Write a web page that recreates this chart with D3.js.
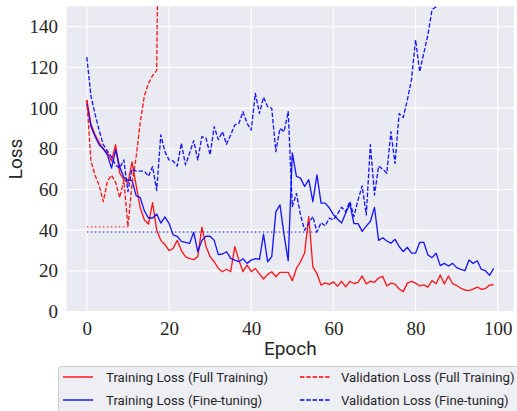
<!DOCTYPE html>
<html>
<head>
<meta charset="utf-8">
<script src="https://cdn.jsdelivr.net/npm/d3@7"></script>
<style>
  html, body { margin: 0; padding: 0; background: #fff; }
  svg { display: block; }
</style>
</head>
<body>
<svg id="chart" width="517" height="411"></svg>
<script>

//// DATA

// Training loss, full training (epochs 0..99)
var trainFull = [104, 92, 87, 83, 80, 78, 74, 82, 68, 65, 63, 73.5, 62, 51, 45, 43, 53.5, 40, 35, 33,
  30, 31, 35, 30, 27, 26, 25.5, 27, 41.5, 32, 27, 24.5, 21.2, 19.6, 20.8, 19.6, 31.9, 25.3, 19.6, 22.9,
  19.6, 21.2, 18.5, 16, 18.3, 19.6, 17.1, 19.3, 19.3, 19.3, 15.2, 21.2, 24.5, 28.8, 46.7, 22, 18.7, 13, 14.1, 13.4,
  14.6, 12.5, 14.9, 12.1, 14.9, 13.8, 14.4, 17.5, 13.6, 14.9, 14.4, 16.5, 17.3, 12.6, 14, 13.5, 11.1, 9.8, 14, 14.9,
  14, 12.6, 13.1, 12, 15.2, 13.7, 18, 13.6, 17.5, 13.7, 12.8, 11.5, 10.6, 10.3, 11, 12, 11, 11.3, 13, 13.2];

// Validation loss, full training (goes off the chart after epoch 17)
var valFull = [104, 74, 67, 62, 54, 64, 67, 63.5, 56, 64.5, 41.7, 63, 76, 93, 106, 112, 116, 118.5, 300];

// Training loss, fine-tuning
var trainFine = [102, 91, 86, 82, 80, 77, 70.5, 79.5, 71, 66, 64.5, 64.5, 57, 56, 49.5, 46, 46, 48, 43.5, 46.5,
  43.4, 37.7, 37, 34.5, 34, 33.5, 39, 29.5, 35, 37, 37, 35, 28, 28.3, 29.4, 26.2, 25.3, 24.5, 26, 23.7,
  25.3, 26, 25.7, 38, 24.5, 27, 49, 52.4, 37.7, 25, 78, 66.4, 65.6, 61.5, 64.8, 54, 67.2, 53.3, 53.3, 51,
  47.6, 45.5, 43.5, 48.4, 53, 43.2, 43.2, 39.4, 42, 44.4, 51.2, 35, 36.3, 34.7, 33.6, 35.5, 32, 29.5, 31.6, 28.7,
  28.7, 34, 34, 27.8, 26.5, 28.7, 22.6, 23.7, 22.4, 23.7, 21.6, 20.8, 20.1, 25.4, 23.7, 25, 20.8, 20.1, 17.8, 21.2];

// Validation loss, fine-tuning (leaves the top of the chart after epoch 85)
var valFine = [125, 106, 97, 89, 82, 79, 76, 72, 70.5, 74.5, 59, 70, 69, 69, 69, 66.5, 71.3, 59.5, 86.8, 78.6,
  74.5, 74, 71.5, 82.7, 72.1, 77.8, 84, 74.5, 86, 85.2, 77, 90.9, 84.5, 88.4, 82.2, 86.8, 91.7, 92.5, 98.2, 92.5,
  89.2, 107.2, 97.4, 105.3, 100.7, 99.9, 78.6, 90, 88.4, 98.2, 51.6, 58, 47.5, 40, 43.4, 46.7, 39.1, 43.7, 42.1, 45.9,
  45, 48, 51.3, 49.1, 54.1, 46.7, 54.9, 61.8, 47.5, 82, 57.3, 71.5, 70, 68, 88.4, 72.8, 97.3, 95.4, 104, 114,
  133.5, 117.8, 127, 136, 148.3, 149.8, 160];

// Axis ticks
var xTicks = [0, 20, 40, 60, 80, 100];
var yTicks = [0, 20, 40, 60, 80, 100, 120, 140];

// Legend, in the order it is laid out (column by column)
var seriesNames = ["Training Loss (Full Training)", "Training Loss (Fine-tuning)",
                   "Validation Loss (Full Training)", "Validation Loss (Fine-tuning)"];
var seriesColors = ["#ff0000", "#0000ff", "#ff0000", "#0000ff"];
var seriesDashed = [false, false, true, true];


//// LAYOUT

var svg = d3.select("#chart");
var plot = {left: 66.5, right: 514, top: 6.3, bottom: 311.6};
var textColor = "#262626";
var serif = "'Liberation Serif', 'DejaVu Serif', serif";
var sans = "Roboto, 'DejaVu Sans', sans-serif";
var lw = 1.35;
var dash = "4.4,1.9";

var x = d3.scaleLinear().domain([-4.95, 103.95]).range([plot.left, plot.right]);
var y = d3.scaleLinear().domain([0, 150]).range([plot.bottom, plot.top]);

// Plot background (seaborn darkgrid)
svg.append("rect")
  .attr("x", plot.left).attr("y", plot.top)
  .attr("width", plot.right - plot.left).attr("height", plot.bottom - plot.top)
  .attr("fill", "#eaeaf2");

svg.append("clipPath").attr("id", "clip")
  .append("rect")
  .attr("x", plot.left).attr("y", plot.top)
  .attr("width", plot.right - plot.left).attr("height", plot.bottom - plot.top);

// Gridlines
svg.append("g").selectAll("line").data(yTicks).enter().append("line")
  .attr("x1", plot.left).attr("x2", plot.right)
  .attr("y1", function(d) { return y(d); }).attr("y2", function(d) { return y(d); })
  .attr("stroke", "#fff").attr("stroke-width", 1.2);
svg.append("g").selectAll("line").data(xTicks).enter().append("line")
  .attr("y1", plot.top).attr("y2", plot.bottom)
  .attr("x1", function(d) { return x(d); }).attr("x2", function(d) { return x(d); })
  .attr("stroke", "#fff").attr("stroke-width", 1.2);

// Axes (labels only, no tick marks or domain line)
var yAxis = svg.append("g")
  .attr("transform", "translate(" + plot.left + ",0)")
  .call(d3.axisLeft(y).tickValues(yTicks).tickSize(0).tickPadding(8.5));
var xAxis = svg.append("g")
  .attr("transform", "translate(0," + plot.bottom + ")")
  .call(d3.axisBottom(x).tickValues(xTicks).tickSize(0).tickPadding(9.5));
[yAxis, xAxis].forEach(function(a) {
  a.select(".domain").remove();
  a.selectAll("text")
    .attr("font-family", serif).attr("font-size", 19)
    .attr("fill", textColor);
});

// Axis titles
svg.append("text")
  .attr("transform", "translate(15," + ((plot.top + plot.bottom) / 2) + ") rotate(-90)")
  .attr("text-anchor", "middle").attr("dy", "0.35em")
  .attr("font-family", sans).attr("font-size", 19).attr("fill", textColor)
  .text("Loss");
svg.append("text")
  .attr("x", (plot.left + plot.right) / 2).attr("y", 348)
  .attr("text-anchor", "middle").attr("dy", "0.35em")
  .attr("font-family", sans).attr("font-size", 19).attr("fill", textColor)
  .text("Epoch");


//// LINES

var lines = svg.append("g").attr("clip-path", "url(#clip)");
var lineGen = d3.line()
  .x(function(d, i) { return x(i); })
  .y(function(d) { return y(d); });

// Best-epoch markers: dotted line from epoch 0 to the epoch of minimal validation loss
function bestLine(vals, color) {
  var best = d3.minIndex(vals);
  lines.append("line")
    .attr("x1", x(0)).attr("x2", x(best))
    .attr("y1", y(vals[best])).attr("y2", y(vals[best]))
    .attr("stroke", color).attr("stroke-width", 1.5)
    .attr("stroke-dasharray", "1.5,2.5").attr("opacity", 0.6);
}
bestLine(valFull, "#ff0000");
bestLine(valFine, "#0000ff");

var allSeries = [trainFull, trainFine, valFull, valFine];
allSeries.forEach(function(vals, k) {
  lines.append("path")
    .datum(vals)
    .attr("d", lineGen)
    .attr("fill", "none")
    .attr("stroke", seriesColors[k])
    .attr("stroke-width", lw)
    .attr("stroke-linejoin", "round")
    .attr("stroke-dasharray", seriesDashed[k] ? dash : null)
    .attr("opacity", 0.9);
});


//// LEGEND

var legend = svg.append("g");
legend.append("rect")
  .attr("x", 58.5).attr("y", 366.5).attr("width", 470).attr("height", 60)
  .attr("rx", 3)
  .attr("fill", "#eaeaf2").attr("fill-opacity", 0.8)
  .attr("stroke", "#cccccc").attr("stroke-width", 1);

var colX = [{line: 63, text: 106}, {line: 300, text: 341}];
var rowY = [377, 400];
seriesNames.forEach(function(name, k) {
  var col = colX[Math.floor(k / 2)];
  var ry = rowY[k % 2];
  legend.append("line")
    .attr("x1", col.line).attr("x2", col.line + 30)
    .attr("y1", ry).attr("y2", ry)
    .attr("stroke", seriesColors[k]).attr("stroke-width", lw)
    .attr("stroke-dasharray", seriesDashed[k] ? dash : null);
  legend.append("text")
    .attr("x", col.text).attr("y", ry).attr("dy", "0.35em")
    .attr("font-family", sans).attr("font-size", 13.2).attr("fill", textColor)
    .text(name);
});

</script>
</body>
</html>
